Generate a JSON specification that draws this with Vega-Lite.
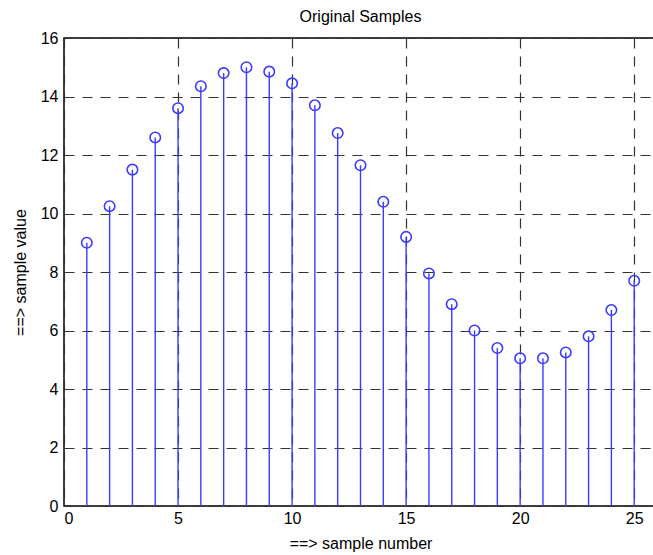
{
  "$schema": "https://vega.github.io/schema/vega-lite/v6.json",
  "autosize": "none",
  "width": 593,
  "height": 468,
  "padding": {"left": 64, "top": 38, "right": 0, "bottom": 49},
  "background": "white",
  "title": {"text": "Original Samples", "font": "Liberation Sans", "fontSize": 16, "fontWeight": "normal", "color": "black", "offset": 5, "anchor": "middle"},
  "config": {
    "view": {"stroke": "black", "strokeWidth": 1.5},
    "axis": {
      "labelFont": "Liberation Sans", "labelFontSize": 16, "labelColor": "black",
      "titleFont": "Liberation Sans", "titleFontSize": 16, "titleFontWeight": "normal", "titleColor": "black",
      "domain": false, "ticks": false,
      "grid": true, "gridColor": "#333333", "gridDash": [10, 8], "gridWidth": 1.2, "gridOpacity": 1
    }
  },
  "data": {"values": [
    {"n": 1, "v": 9.0}, {"n": 2, "v": 10.25}, {"n": 3, "v": 11.5}, {"n": 4, "v": 12.6},
    {"n": 5, "v": 13.6}, {"n": 6, "v": 14.35}, {"n": 7, "v": 14.8}, {"n": 8, "v": 15.0},
    {"n": 9, "v": 14.85}, {"n": 10, "v": 14.45}, {"n": 11, "v": 13.7}, {"n": 12, "v": 12.75},
    {"n": 13, "v": 11.65}, {"n": 14, "v": 10.4}, {"n": 15, "v": 9.2}, {"n": 16, "v": 7.95},
    {"n": 17, "v": 6.9}, {"n": 18, "v": 6.0}, {"n": 19, "v": 5.4}, {"n": 20, "v": 5.05},
    {"n": 21, "v": 5.05}, {"n": 22, "v": 5.25}, {"n": 23, "v": 5.8}, {"n": 24, "v": 6.7},
    {"n": 25, "v": 7.7}
  ]},
  "encoding": {
    "x": {"field": "n", "type": "quantitative", "scale": {"domain": [0, 26], "nice": false},
          "axis": {"values": [0, 5, 10, 15, 20, 25], "title": "==>  sample number", "labelPadding": 4, "titleY": 29, "labelAngle": 0}},
    "y": {"field": "v", "type": "quantitative", "scale": {"domain": [0, 16], "nice": false},
          "axis": {"values": [0, 2, 4, 6, 8, 10, 12, 14, 16], "title": "==>  sample value", "labelPadding": 6, "titleX": -36}}
  },
  "layer": [
    {"mark": {"type": "rule", "color": "#3b3bff", "strokeWidth": 1.4}, "encoding": {"y2": {"datum": 0}}},
    {"mark": {"type": "point", "shape": "circle", "filled": false, "color": "#3b3bff", "size": 110, "strokeWidth": 1.6, "opacity": 1}}
  ]
}
